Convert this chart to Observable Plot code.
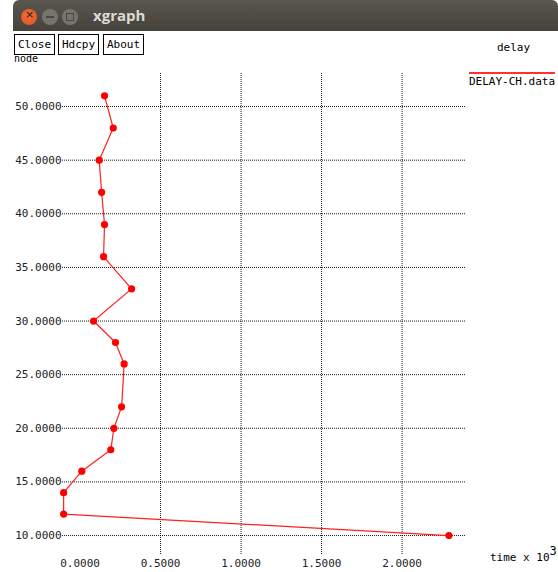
<!DOCTYPE html>
<html>
<head>
<meta charset="utf-8">
<script src="https://cdn.jsdelivr.net/npm/d3@7"></script>
<script src="https://cdn.jsdelivr.net/npm/@observablehq/plot@0.6"></script>
<style>
  html, body { margin: 0; padding: 0; background: #fff; }
  #wrap { position: relative; width: 558px; height: 572px; overflow: hidden; background: #fff; }
  #chart { position: absolute; left: 0; top: 0; }
  #titlebar { position: absolute; left: 13px; top: 0; width: 545px; height: 31px;
    background: linear-gradient(#5a5650, #45423c); border-radius: 6px 6px 0 0; }
  .circ { position: absolute; top: 9px; width: 16px; height: 16px; border-radius: 50%; }
  #title { position: absolute; left: 80px; top: 5px; font: bold 15px "Open Sans", sans-serif; color: #dcdad6; }
  .btn { position: absolute; top: 34px; height: 19px; border: 1px solid #000; background: #fff;
    font: 11px "DejaVu Sans Mono", monospace; line-height: 19px; text-align: center; box-sizing: content-box; }
  .lbl { position: absolute; font: 11px "DejaVu Sans Mono", monospace; color: #000; white-space: nowrap; }
</style>
</head>
<body>
<div id="wrap">
  <div id="chart"></div>
  <div class="lbl" style="left:14px; top:54px; font-size:10px; line-height:9px;">node</div>
  <div id="titlebar">
    <div class="circ" style="left:8px; background: radial-gradient(circle at 50% 40%, #f0723e, #d9501e);"><span style="position:absolute;left:4px;top:-1px;font:bold 11px 'DejaVu Sans';color:#5a2a14;">×</span></div>
    <div class="circ" style="left:29px; background:#77746e;"><span style="position:absolute;left:4px;top:7px;width:8px;height:2px;background:#4a4742;"></span></div>
    <div class="circ" style="left:49px; background:#77746e;"><span style="position:absolute;left:4px;top:4px;width:6px;height:6px;border:1px solid #4a4742;"></span></div>
    <div id="title">xgraph</div>
  </div>
  <div class="btn" style="left:14px; width:39px;">Close</div>
  <div class="btn" style="left:58px; width:39px;">Hdcpy</div>
  <div class="btn" style="left:103px; width:39px;">About</div>
  <div class="lbl" style="left:497px; top:41px;">delay</div>
  <div style="position:absolute; left:469px; top:72px; width:86px; height:2px; background:#ff3030;"></div>
  <div class="lbl" style="left:469px; top:75px;">DELAY-CH.data</div>
  <div class="lbl" style="left:490px; top:550px;">time x 10<span style="position:relative; top:-6px; font-size:12px;">3</span></div>
</div>
<script>
// Data (node vs time x 10^3)
const nodes = [10, 12, 14, 16, 18, 20, 22, 26, 28, 30, 33, 36, 39, 42, 45, 48, 51];
const times = [2.291, -0.102, -0.102, 0.011, 0.191, 0.210, 0.258, 0.274, 0.220, 0.084, 0.320, 0.146, 0.152, 0.134, 0.119, 0.206, 0.152];
const xTicks = [0, 0.5, 1.0, 1.5, 2.0];
const xGrid = [0.5, 1.0, 1.5, 2.0];
const yTicks = [10, 15, 20, 25, 30, 35, 40, 45, 50];

const data = nodes.map((n, i) => ({node: n, time: times[i]}));

const chart = Plot.plot({
  width: 558,
  height: 572,
  marginLeft: 62,
  marginRight: 92,
  marginTop: 73,
  marginBottom: 17,
  style: {background: "transparent", fontFamily: "DejaVu Sans Mono, monospace", fontSize: "11px", color: "#222"},
  x: {domain: [-0.109, 2.40]},
  y: {domain: [8.14, 53.08]},
  marks: [
    Plot.gridY(yTicks, {stroke: "#000", strokeOpacity: 0.9, strokeDasharray: "1,1"}),
    Plot.gridX(xGrid, {stroke: "#000", strokeOpacity: 0.9, strokeDasharray: "1,1"}),
    Plot.axisY(yTicks, {tickSize: 0, tickPadding: 1, tickFormat: d => d.toFixed(4), label: null, fontSize: 11}),
    Plot.axisX(xTicks, {tickSize: 0, tickPadding: 4, tickFormat: d => d.toFixed(4), label: null, fontSize: 11}),
    Plot.line(data, {x: "time", y: "node", stroke: "#ff2020", strokeWidth: 1.2}),
    Plot.dot(data, {x: "time", y: "node", r: 3.6, fill: "#ff0000", stroke: "none"})
  ]
});
document.getElementById("chart").appendChild(chart);
</script>
</body>
</html>
